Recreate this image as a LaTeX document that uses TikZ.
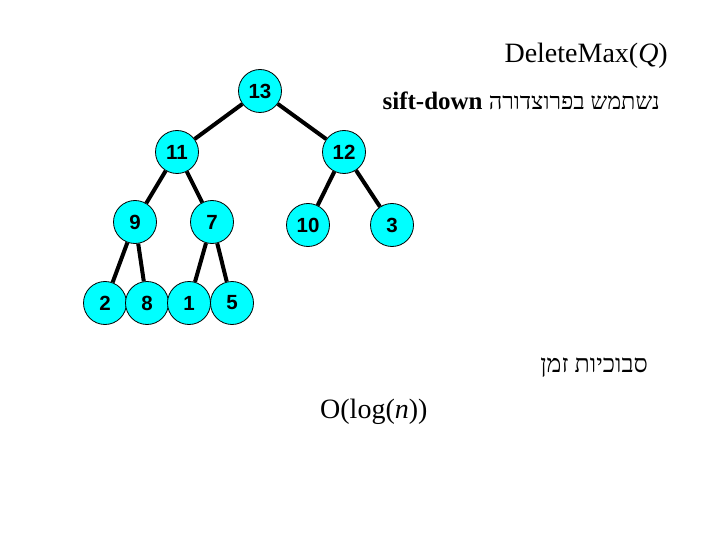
\documentclass[tikz,border=0pt]{standalone}
\usepackage{fontspec}
\setmainfont{Liberation Serif}
\setsansfont{Liberation Sans}
\newfontfamily\hebfont[Script=Hebrew]{Liberation Serif}
\TeXXeTstate=1
\definecolor{nodecyan}{RGB}{0,255,255}
\begin{document}
\begin{tikzpicture}[x=1pt,y=-1pt,
  hn/.style={circle,draw=black,line width=0.8pt,fill=nodecyan,minimum size=43pt,inner sep=0pt,
    font=\fontsize{20.5}{20.5}\selectfont\sffamily\bfseries},
  ed/.style={line width=4pt},
  lbl/.style={inner sep=0pt}]
\useasboundingbox (0,0) rectangle (720,540);
\node[hn] (n13) at (260,91) {13};
\node[hn] (n11) at (177,152) {11};
\node[hn] (n12) at (344,152) {12};
\node[hn] (n9) at (135,222) {9};
\node[hn] (n7) at (212,222) {7};
\node[hn] (n10) at (308,225) {10};
\node[hn] (n3) at (392,225) {3};
\node[hn] (n2) at (105,303) {2};
\node[hn] (n8) at (147,303) {8};
\node[hn] (n1) at (189,303) {1};
\node[hn] (n5) at (232,303) {5};
\draw[ed] (n13) -- (n11);
\draw[ed] (n13) -- (n12);
\draw[ed] (n11) -- (n9);
\draw[ed] (n11) -- (n7);
\draw[ed] (n12) -- (n10);
\draw[ed] (n12) -- (n3);
\draw[ed] (n9) -- (n2);
\draw[ed] (n9) -- (n8);
\draw[ed] (n7) -- (n1);
\draw[ed] (n7) -- (n5);
\node[lbl,anchor=base east,font=\fontsize{28}{28}\selectfont] (title) at (668,63) {DeleteMax(\textit{Q})};
\node[lbl,anchor=base east,font=\fontsize{25}{25}\selectfont] (sift) at (660,110) {\hebfont\beginR{\fontsize{23.5}{25}\selectfont נשתמש בפרוצדורה} \beginL\textbf{sift-down}\endL\endR};
\node[lbl,anchor=base east,font=\fontsize{25}{25}\selectfont] (cplx) at (648,372) {\hebfont\beginR סבוכיות זמן\endR};
\node[lbl,anchor=base west,font=\fontsize{28}{28}\selectfont] (olog) at (320,418) {O(log(\textit{n}))};
\end{tikzpicture}
\end{document}
